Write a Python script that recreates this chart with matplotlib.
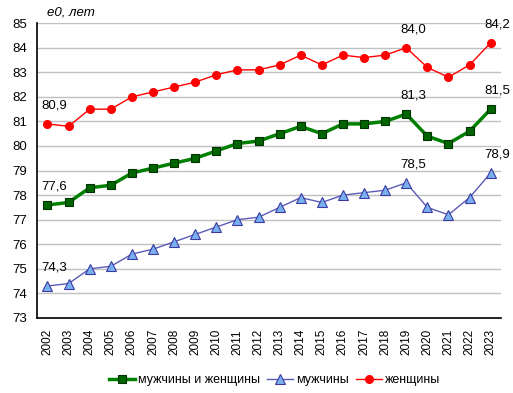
import numpy as np
import matplotlib.pyplot as plt

plt.rcParams['font.family'] = ['Liberation Sans', 'DejaVu Sans']

years = list(range(2002, 2024))
total = [77.6, 77.7, 78.3, 78.4, 78.9, 79.1, 79.3, 79.5, 79.8, 80.1, 80.2,
         80.5, 80.8, 80.5, 80.9, 80.9, 81.0, 81.3, 80.4, 80.1, 80.6, 81.5]
men = [74.3, 74.4, 75.0, 75.1, 75.6, 75.8, 76.1, 76.4, 76.7, 77.0, 77.1,
       77.5, 77.9, 77.7, 78.0, 78.1, 78.2, 78.5, 77.5, 77.2, 77.9, 78.9]
women = [80.9, 80.8, 81.5, 81.5, 82.0, 82.2, 82.4, 82.6, 82.9, 83.1, 83.1,
         83.3, 83.7, 83.3, 83.7, 83.6, 83.7, 84.0, 83.2, 82.8, 83.3, 84.2]
labelled = [2002, 2019, 2023]

fig = plt.figure(figsize=(5.13, 3.93), dpi=100)
ax = fig.add_axes([0.072, 0.191, 0.905, 0.750])

x = np.arange(len(years))
ax.plot(x, total, color='#008000', lw=2.5, marker='s', ms=5.5,
        mfc='#006400', mec='#003300', mew=0.8, label='мужчины и женщины', zorder=4)
ax.plot(x, men, color='#5b5bb8', lw=1, marker='^', ms=6.5,
        mfc='#78b0f0', mec='#3a3aa0', mew=0.8, label='мужчины', zorder=4)
ax.plot(x, women, color='#ff0000', lw=1, marker='o', ms=5.5,
        mfc='#ff0000', mec='#ff0000', label='женщины', zorder=4)

for series in (total, men, women):
    for yr in labelled:
        i = years.index(yr)
        ax.annotate(f"{series[i]:.1f}".replace('.', ','), (i, series[i]),
                    xytext=(5, 9), textcoords='offset points',
                    ha='center', va='bottom', fontsize=9.5)

ax.set_xlim(-0.5, len(years) - 0.5)
ax.set_ylim(73, 85)
ax.set_yticks(range(73, 86))
ax.set_xticks(x)
ax.set_xticklabels([str(y) for y in years], rotation=90, fontsize=8.5)
ax.tick_params(axis='y', labelsize=9.5, length=0, pad=7)
ax.tick_params(axis='x', length=0, pad=8)
ax.grid(axis='y', color='#c0c0c0', lw=1)
ax.set_axisbelow(True)
for s in ('top', 'right'):
    ax.spines[s].set_visible(False)
ax.spines['left'].set_linewidth(1.2)
ax.spines['bottom'].set_linewidth(1.2)

fig.text(0.092, 0.967, 'e0, лет', fontsize=9.5, style='italic', ha='left', va='center')

fig.legend(loc='center', bbox_to_anchor=(0.535, 0.032), ncol=3, frameon=False,
           fontsize=9, handlelength=2.1, columnspacing=0.6, handletextpad=0.2)

plt.savefig('out.png', dpi=100)
